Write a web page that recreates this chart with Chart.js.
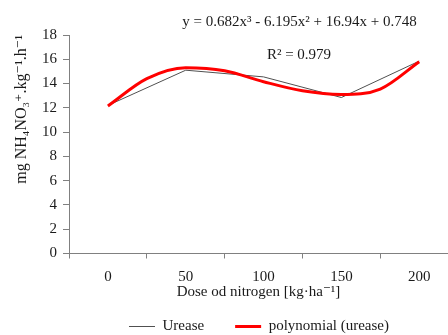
<!DOCTYPE html>
<html><head><meta charset="utf-8">
<script src="https://cdn.jsdelivr.net/npm/chart.js@4/dist/chart.umd.min.js"></script>
<style>
html,body{margin:0;padding:0;background:#fff;overflow:hidden;}
#clip{position:relative;width:448px;height:335px;overflow:hidden;background:#fff;}
#wrap{position:absolute;left:0;top:0;width:518px;height:344px;}
</style></head><body>
<div id="clip"><div id="wrap"><canvas id="c"></canvas></div></div>
<script>
// ---- data ----
const doses = [0, 50, 100, 150, 200];
const urease = [12.2, 15.1, 14.55, 12.85, 15.85];
const trendDoses = [0, 25, 50, 75, 100, 125, 150, 175, 200];
const trendValues = [12.15, 14.4, 15.3, 15.05, 14.15, 13.4, 13.1, 13.55, 15.8];
const seriesNames = ['Urease', 'polynomial (urease)'];
const xTickLabels = ['0', '50', '100', '150', '200'];
const xTickMarks = [-25, 25, 75, 125, 175];
const yTickValues = [0, 2, 4, 6, 8, 10, 12, 14, 16, 18];
const equationText = 'y = 0.682x³ - 6.195x² + 16.94x + 0.748';
const r2Text = 'R² = 0.979';
const xTitle = 'Dose od nitrogen [kg·ha⁻¹]';
const yTitle = 'mg NH₄NO₃⁺.kg⁻¹.h⁻¹';

const FONT = '"Liberation Serif", "DejaVu Serif", serif';
const TXT = '#1a1a1a';
const AX = '#808080';
Chart.defaults.font.family = FONT;
Chart.defaults.font.size = 15;
Chart.defaults.color = TXT;

const eqPlugin = {
  id: 'eqText',
  afterDraw(chart) {
    const ctx = chart.ctx;
    ctx.save();
    ctx.font = '15px ' + FONT;
    ctx.fillStyle = TXT;
    ctx.textAlign = 'center';
    ctx.textBaseline = 'middle';
    ctx.fillText(equationText, 299.5, 22);
    ctx.fillText(r2Text, 299, 55);
    ctx.restore();
  }
};

new Chart(document.getElementById('c'), {
  type: 'line',
  data: {
    datasets: [
      {
        label: seriesNames[0],
        data: doses.map((d, i) => ({x: d, y: urease[i]})),
        borderColor: '#505050',
        backgroundColor: '#505050',
        borderWidth: 1,
        pointRadius: 0,
        tension: 0,
        order: 2
      },
      {
        label: seriesNames[1],
        data: trendDoses.map((d, i) => ({x: d, y: trendValues[i]})),
        borderColor: '#ff0000',
        backgroundColor: '#ff0000',
        borderWidth: 3,
        pointRadius: 0,
        cubicInterpolationMode: 'monotone',
        order: 1
      }
    ]
  },
  options: {
    responsive: true,
    maintainAspectRatio: false,
    animation: false,
    devicePixelRatio: 1,
    layout: {padding: {top: 35, left: 0, right: 0, bottom: 0}},
    plugins: {
      tooltip: {enabled: false},
      legend: {
        position: 'bottom',
        labels: {
          usePointStyle: true,
          pointStyle: 'line',
          pointStyleWidth: 26,
          padding: 31,
          color: TXT,
          font: {size: 15},
          sort: (a, b) => a.datasetIndex - b.datasetIndex
        }
      }
    },
    scales: {
      x: {
        type: 'linear',
        min: -25,
        max: 218.5,
        afterBuildTicks: s => {
          s.ticks = [...xTickMarks, ...xTickLabels.map(Number)].sort((a, b) => a - b).map(v => ({value: v}));
        },
        ticks: {
          autoSkip: false,
          maxRotation: 0,
          padding: 10,
          color: TXT,
          font: {size: 15},
          callback: v => xTickLabels.includes(String(v)) ? String(v) : ''
        },
        grid: {
          drawOnChartArea: false,
          drawTicks: true,
          tickLength: 5,
          tickColor: c => (c.tick && xTickMarks.includes(c.tick.value)) ? AX : 'rgba(0,0,0,0)'
        },
        border: {display: true, color: AX, width: 1},
        title: {
          display: true, text: xTitle, color: TXT, font: {size: 15},
          padding: {top: -13.5, bottom: -13}
        }
      },
      y: {
        min: 0,
        max: 18,
        afterBuildTicks: s => { s.ticks = yTickValues.map(v => ({value: v})); },
        ticks: {padding: 6, color: TXT, font: {size: 15}},
        grid: {drawOnChartArea: false, drawTicks: true, tickLength: 6, tickColor: AX},
        border: {display: true, color: AX, width: 1},
        title: {
          display: true, text: yTitle, align: 'end', color: TXT, font: {size: 16},
          padding: {top: 12, bottom: 0}
        },
        afterFit: s => { s.width = 69; }
      },
      yR: {
        position: 'right',
        display: true,
        grid: {display: false},
        ticks: {display: false},
        border: {display: false},
        afterFit: s => { s.width = 70; }
      }
    }
  },
  plugins: [eqPlugin]
});
</script>
</body></html>
